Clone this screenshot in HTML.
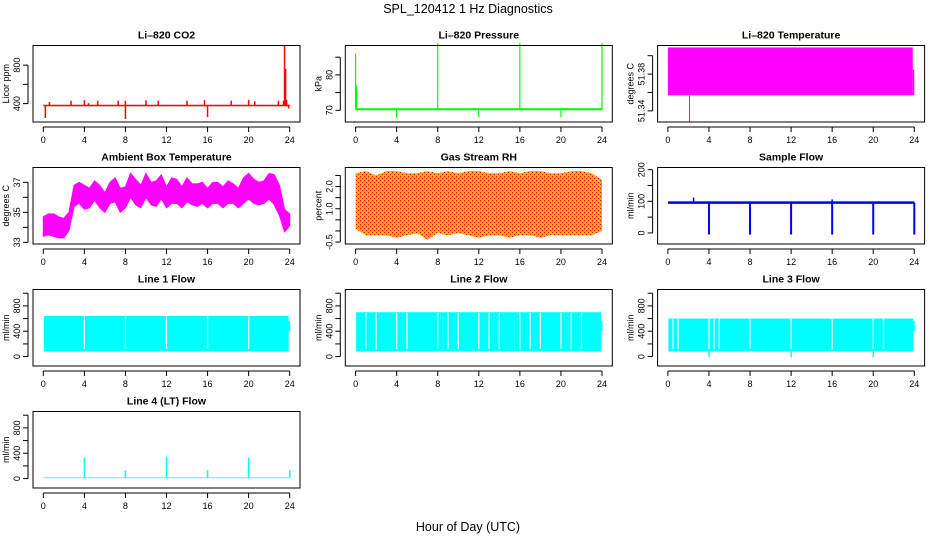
<!DOCTYPE html>
<html><head><meta charset="utf-8"><style>
html,body{margin:0;padding:0;background:#fff}
svg{display:block;font-family:"Liberation Sans",Arial,sans-serif}
</style></head><body>
<svg id="c" width="936" height="540" viewBox="0 0 936 540" xmlns="http://www.w3.org/2000/svg">
<defs>
<pattern id="rhpat" width="4" height="4" patternUnits="userSpaceOnUse">
<rect width="4" height="4" fill="#ffa500"/><rect x="0" y="0" width="1" height="1" fill="#ff0000"/><rect x="2" y="2" width="1" height="1" fill="#ff0000"/><rect x="2" y="0" width="1" height="1" fill="#ffd000"/>
</pattern>
</defs>
<text x="468" y="13" text-anchor="middle" font-size="12.5">SPL_120412  1 Hz Diagnostics</text>
<text x="468" y="531" text-anchor="middle" font-size="12.5">Hour of Day (UTC)</text>
</svg>
<script>
// ---- data ----
const xTicks = [0,4,8,12,16,20,24];
const co2Base = 380;
const co2Spikes = [[0.2,250],[0.6,415],[2.7,430],[4,435],[4.4,405],[5.3,430],[7.3,430],[8,430],[8,240],[10,435],[11.2,430],[14,430],[15.7,435],[16,260],[18.3,430],[20,440],[20.6,425],[22.9,430],[23.4,430],[23.5,1000],[23.6,760],[23.7,440],[23.9,350]];
const presBase = 70.3;
const presSpikes = [[0,86],[0.1,77],[4,67.8],[8,89],[12,68],[16,89],[20,68],[24,89]];
const tempHi = 51.409, tempLo = 51.357, tempEndHi = 51.385;
const tempDip = [[2.1,51.328]];
const ambHours = [0,0.5,1,1.5,2,2.5,3,3.5,4,4.5,5,5.5,6,6.5,7,7.5,8,8.5,9,9.5,10,10.5,11,11.5,12,12.5,13,13.5,14,14.5,15,15.5,16,16.5,17,17.5,18,18.5,19,19.5,20,20.5,21,21.5,22,22.5,23,23.5,24];
const ambHi = [34.7,34.9,34.9,34.7,34.6,35.0,36.8,37.0,36.8,36.6,37.1,36.8,36.3,37.0,37.3,36.6,36.7,37.6,37.2,36.8,37.6,37.0,37.1,37.5,36.7,37.3,37.2,36.7,37.3,36.9,36.9,37.0,36.6,37.0,37.0,36.7,37.1,36.9,36.6,37.3,37.6,37.2,37.0,37.1,37.6,37.5,36.8,35.2,34.9];
const ambLo = [33.4,33.5,33.4,33.3,33.3,33.8,35.4,35.6,35.2,35.3,35.8,35.3,35.0,35.6,35.7,35.0,35.3,36.0,35.5,35.3,36.0,35.5,35.4,35.9,35.3,35.6,35.6,35.3,35.7,35.5,35.4,35.6,35.3,35.6,35.6,35.3,35.6,35.6,35.3,35.6,35.9,35.6,35.5,35.6,35.9,35.5,34.8,33.7,34.1];
const rhHours = [0,1,2,3,4,5,6,7,8,9,10,11,12,13,14,15,16,17,18,19,20,21,22,23,24];
const rhHi = [2.6,2.7,2.5,2.7,2.7,2.6,2.6,2.7,2.6,2.7,2.6,2.7,2.7,2.6,2.6,2.7,2.6,2.7,2.7,2.6,2.6,2.7,2.7,2.6,2.3];
const rhLo = [0.1,-0.2,-0.2,-0.2,-0.3,-0.2,-0.1,-0.4,-0.1,-0.2,-0.1,-0.2,-0.3,-0.2,-0.2,-0.3,-0.2,-0.2,-0.3,-0.2,-0.2,-0.2,-0.2,-0.2,0.0];
const flowBase = 96, flowNoise = [92,100];
const flowDips = [[4,-5],[8,-5],[12,-5],[16,-5],[20,-5],[24,-5]];
const flowUp = [[2.5,112],[16,106]];
const line1Band = [80,640], line1Gaps = [4,8,12,16,20];
const line2Band = [80,700], line2Gaps = [1,2,4,5,8,9,10,12,13,14,16,17,18,20,21,22];
const line3Band = [80,600], line3Gaps = [0.5,1,4,4.5,5,8,12,16,20,21];
const line3Dips = [[4,-10],[12,-10],[20,-10]];
const line4Base = 12;
const line4Spikes = [[4,330],[8,130],[12,340],[16,130],[20,330],[24,130]];

// ---- layout helpers ----
const svg = document.getElementById('c');
const NS = 'http://www.w3.org/2000/svg';
function mk(tag, attrs, parent){const e=document.createElementNS(NS,tag);for(const k in attrs)e.setAttribute(k,attrs[k]);(parent||svg).appendChild(e);return e;}

function panel(col,row,title,ylab,ymin,ymax,ticks,labels,name){
  const L=33+312.3*col, R=L+267, T=45.5+122*row, B=T+76.5;
  const g=mk('g',{});
  
  
  const r=ymax-ymin;
  const X=h=>L+10.3+h*(246.4/24);
  const Y=v=>B-(v-(ymin-0.04*r))/(1.08*r)*(B-T);
  const data=mk('g',{},g);
  
  
  const box=mk('rect',{x:L,y:T,width:R-L,height:B-T,fill:'none',stroke:'#000','stroke-width':1},g);
  
  
  const t=mk('text',{x:(L+R)/2,y:T-7,'text-anchor':'middle','font-size':10.5,'font-weight':'bold'},g);
  t.textContent=title;
  
  
  const xa=mk('g',{},g);
  
  
  mk('line',{x1:X(0),x2:X(24),y1:B+5,y2:B+5,stroke:'#000'},xa);
  xTicks.forEach(v=>{
    mk('line',{x1:X(v),x2:X(v),y1:B+5,y2:B+10,stroke:'#000'},xa);
    const tx=mk('text',{x:X(v),y:B+21,'text-anchor':'middle','font-size':9},xa);
    tx.textContent=v;
  });
  const ya=mk('g',{},g);
  
  
  mk('line',{x1:L-5,x2:L-5,y1:Y(ticks[0]),y2:Y(ticks[ticks.length-1]),stroke:'#000'},ya);
  ticks.forEach(v=>mk('line',{x1:L-10,x2:L-5,y1:Y(v),y2:Y(v),stroke:'#000'},ya));
  labels.forEach(v=>{
    const tx=mk('text',{x:0,y:0,'text-anchor':'middle','font-size':9,transform:`translate(${L-13},${Y(parseFloat(v))}) rotate(-90)`},ya);
    tx.textContent=v;
  });
  const yl=mk('text',{x:0,y:0,'text-anchor':'middle','font-size':9,transform:`translate(${L-24},${(T+B)/2}) rotate(-90)`},g);
  yl.textContent=ylab;
  
  
  return {X,Y,g:data};
}
function vline(p,h,v1,v2,color,w){mk('line',{x1:p.X(h),x2:p.X(h),y1:p.Y(v1),y2:p.Y(v2),stroke:color,'stroke-width':w||1},p.g);}
function band(p,h1,h2,lo,hi,fill){mk('rect',{x:p.X(h1),y:p.Y(hi),width:p.X(h2)-p.X(h1),height:p.Y(lo)-p.Y(hi),fill:fill},p.g);}

// CO2
let p=panel(0,0,'Li\u2013820 CO2','Licor ppm',238,975,[400,600,800],['400','800'],'co2');
band(p,0,24,co2Base-8,co2Base+8,'#ff0000');
co2Spikes.forEach(s=>vline(p,s[0],co2Base,s[1],'#ff0000',1.5));
// Pressure
p=panel(1,0,'Li\u2013820 Pressure','kPa',67.5,87.5,[70,75,80,85],['70','80'],'pressure');
band(p,0,24,presBase-0.3,presBase+0.3,'#00ff00');
presSpikes.forEach(s=>vline(p,s[0],presBase,s[1],'#00ff00',1.2));
// Li-820 temp
p=panel(2,0,'Li\u2013820 Temperature','degrees C',51.331,51.408,[51.34,51.36,51.38,51.40],['51.34','51.38'],'li820-temp');
band(p,0,23.85,tempLo,tempHi,'#ff00ff');
band(p,23.85,24,tempLo,tempEndHi,'#ff00ff');
tempDip.forEach(s=>vline(p,s[0],tempLo,s[1],'#ff00ff',1));
// Ambient
p=panel(0,1,'Ambient Box Temperature','degrees C',33.08,37.8,[33,34,35,36,37],['33','35','37'],'ambient-temp');
{let pts=ambHours.map((h,i)=>p.X(h)+','+p.Y(ambHi[i]));
 pts=pts.concat(ambHours.map((h,i)=>p.X(h)+','+p.Y(ambLo[i])).reverse());
 mk('polygon',{points:pts.join(' '),fill:'#ff00ff',stroke:'#ff00ff','stroke-width':1},p.g);}
// RH
p=panel(1,1,'Gas Stream RH','percent',-0.46,2.73,[-0.5,0,0.5,1,1.5,2,2.5],['-0.5','1.0','2.0'],'gas-rh');
{let pts=rhHours.map((h,i)=>p.X(h)+','+p.Y(rhHi[i]));
 pts=pts.concat(rhHours.map((h,i)=>p.X(h)+','+p.Y(rhLo[i])).reverse());
 mk('polygon',{points:pts.join(' '),fill:'url(#rhpat)'},p.g);}
// Sample flow
p=panel(2,1,'Sample Flow','ml/min',-26,198,[0,50,100,150,200],['0','100','200'],'sample-flow');
band(p,0,24,flowNoise[0],flowNoise[1],'#0000ff');
flowDips.forEach(s=>vline(p,s[0],flowBase,s[1],'#0000ff',2));
flowUp.forEach(s=>vline(p,s[0],flowBase,s[1],'#0000ff',1.5));
// Line flows
function lineFlow(col,row,title,name,bandv,gaps){
  const q=panel(col,row,title,'ml/min',-104,1014,[0,200,400,600,800,1000],['0','400','800'],name);
  band(q,0.05,23.9,bandv[0],bandv[1],'#00ffff');
  band(q,23.9,24.05,400,560,'#00ffff');
  gaps.forEach(h=>vline(q,h,bandv[0]+40,bandv[1]-10,'#ffffff',1.2));
  return q;
}
lineFlow(0,2,'Line 1 Flow','line1-flow',line1Band,line1Gaps);
lineFlow(1,2,'Line 2 Flow','line2-flow',line2Band,line2Gaps);
p=lineFlow(2,2,'Line 3 Flow','line3-flow',line3Band,line3Gaps);
line3Dips.forEach(s=>vline(p,s[0],line3Band[0],s[1],'#00ffff',1.5));
p=panel(0,3,'Line 4 (LT) Flow','ml/min',-104,1014,[0,200,400,600,800,1000],['0','400','800'],'line4-flow');
band(p,0,24,line4Base-6,line4Base+6,'#00ffff');
line4Spikes.forEach(s=>vline(p,s[0],line4Base,s[1],'#00ffff',1.5));
</script>
</body></html>
